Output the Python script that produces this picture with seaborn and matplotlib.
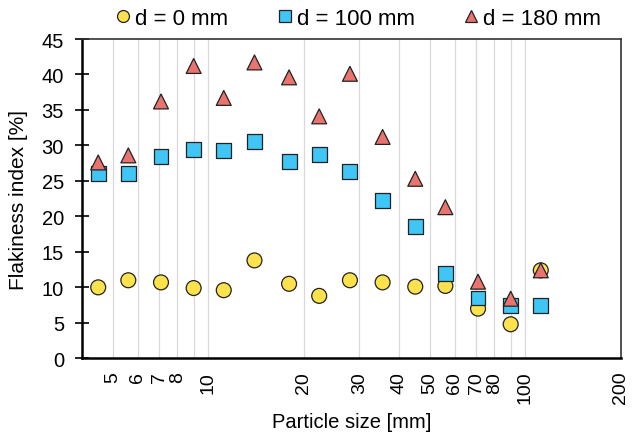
import numpy as np
import pandas as pd
import matplotlib
matplotlib.use("Agg")
import matplotlib.pyplot as plt
import seaborn as sns
from matplotlib.ticker import FixedLocator, FixedFormatter, NullLocator

# Data
particle_size = [4.5, 5.6, 7.1, 9, 11.2, 14, 18, 22.4, 28, 35.5, 45, 56, 71, 90, 112]
fi_d0 = [10.0, 11.0, 10.7, 9.9, 9.6, 13.8, 10.5, 8.8, 11.0, 10.7, 10.1, 10.2, 7.0, 4.8, 12.4]
fi_d100 = [26.1, 26.1, 28.4, 29.4, 29.3, 30.5, 27.7, 28.7, 26.3, 22.2, 18.6, 12.0, 8.5, 7.5, 7.5]
fi_d180 = [27.6, 28.6, 36.2, 41.2, 36.7, 41.7, 39.6, 34.1, 40.1, 31.2, 25.3, 21.3, 10.8, 8.4, 12.4]
series_names = ["d = 0 mm", "d = 100 mm", "d = 180 mm"]
x_ticks = [5, 6, 7, 8, 10, 20, 30, 40, 50, 60, 70, 80, 100, 200]
x_tick_labels = ["5", "6", "7", "8", "10", "20", "30", "40", "50", "60", "70", "80", "100", "200"]
grid_x = [5, 6, 7, 8, 9, 10, 20, 30, 40, 50, 60, 70, 80, 90, 100]
y_ticks = list(range(0, 50, 5))

df = pd.DataFrame({
    "size": particle_size * 3,
    "fi": fi_d0 + fi_d100 + fi_d180,
    "series": sum([[n] * len(particle_size) for n in series_names], []),
})

sns.set_style("white")
plt.rcParams["font.family"] = ["Liberation Sans", "DejaVu Sans"]
plt.rcParams["text.color"] = "black"
plt.rcParams["axes.labelcolor"] = "black"
plt.rcParams["xtick.color"] = "black"
plt.rcParams["ytick.color"] = "black"

fig = plt.figure(figsize=(6.39, 4.35), dpi=100)
ax = fig.add_axes([0.1283, 0.174, 0.9718 - 0.1283, 0.908 - 0.174])

palette = {"d = 0 mm": "#FDE24B", "d = 100 mm": "#3FC6F5", "d = 180 mm": "#E8736F"}
markers = {"d = 0 mm": "o", "d = 100 mm": "s", "d = 180 mm": "^"}

ax.set_xscale("log")
for gx in grid_x:
    ax.axvline(gx, color="#D9D9D9", lw=0.9, zorder=0)

sns.scatterplot(data=df, x="size", y="fi", hue="series", style="series",
                palette=palette, markers=markers, s=115, edgecolor="#222222",
                linewidth=0.9, ax=ax, zorder=3, legend=True)

ax.set_xlim(4.0, 200.5)
ax.set_ylim(0, 45)
ax.xaxis.set_major_locator(FixedLocator(x_ticks))
ax.xaxis.set_major_formatter(FixedFormatter(x_tick_labels))
ax.xaxis.set_minor_locator(NullLocator())
ax.set_yticks(y_ticks)
ax.tick_params(axis="x", length=0, labelsize=14, rotation=90, pad=9)
ax.tick_params(axis="y", direction="inout", length=10, width=1.2, labelsize=14.5, pad=8, left=True)

for s in ["left", "bottom"]:
    ax.spines[s].set_color("black")
    ax.spines[s].set_linewidth(1.8)
for s in ["top", "right"]:
    ax.spines[s].set_color("#333333")
    ax.spines[s].set_linewidth(1.2)

ax.set_xlabel("Particle size [mm]", fontsize=14.5, labelpad=6)
ax.set_ylabel("Flakiness index [%]", fontsize=15, labelpad=10)

handles, labels = ax.get_legend_handles_labels()
ax.legend(handles, labels, loc="lower center", bbox_to_anchor=(0.515, 1.0), ncol=3,
          frameon=False, fontsize=16, handlelength=0.5, handletextpad=0.28,
          columnspacing=2.3, markerscale=0.8, borderaxespad=0.05)

fig.savefig("out.png", dpi=100)
